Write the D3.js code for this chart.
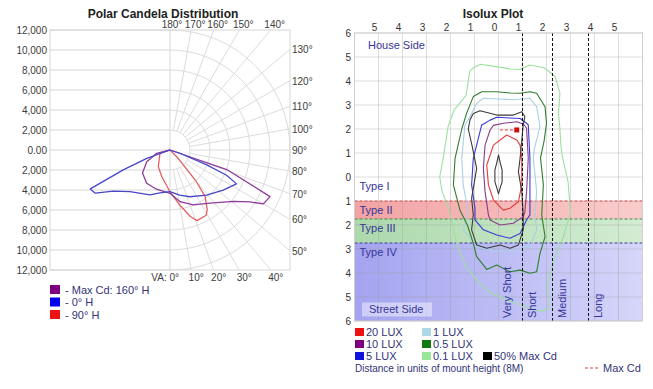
<!DOCTYPE html>
<html>
<head>
<meta charset="utf-8">
<script src="https://cdn.jsdelivr.net/npm/d3@7"></script>
<style>
  body { margin: 0; background: #fff; }
  text { font-family: "Liberation Sans", Arial, sans-serif; }
</style>
</head>
<body>
<svg id="chart" width="653" height="389"></svg>
<script>
// ---- Polar candela data (vertical angle from nadir, candela); negative angles = left half
const candelaTicks = d3.range(-12000, 12001, 2000);
const topAngleLabels = [180, 170, 160, 150, 140];
const rightAngleLabels = [130, 120, 110, 100, 90, 80, 70, 60, 50];
const bottomAngleLabels = [0, 10, 20, 30, 40];

const maxCdAngles = [-90, -76, -63, -50, -35, -19, 0, 11, 23, 37, 51, 57, 60, 65, 71, 90];
const maxCdValues = [0, 1370, 2610, 3590, 4060, 4150, 4330, 5270, 5970, 6660, 8170, 9530, 10780, 11040, 6010, 0];
const h0Angles = [-90, -70, -67, -64, -60, -54, -44, -24, -13, 0, 12, 23, 39, 53, 63, 66, 68, 72, 90];
const h0Values = [0, 2470, 5080, 8870, 8630, 6980, 5780, 4920, 4390, 4170, 4610, 5080, 5810, 6660, 7460, 6200, 3960, 1050, 0];
const h90Angles = [-90, -72, -35, -17, 0, 10, 17, 21, 29, 32, 37, 40, 42, 45, 90];
const h90Values = [0, 1050, 2040, 2800, 4170, 5590, 6960, 7560, 7460, 7030, 5840, 4020, 2000, 950, 0];

const polarSeries = ["- Max Cd: 160° H", "- 0° H", "- 90° H"];
const polarColors = ["#8e3a9c", "#4747c8", "#e46060"];
const polarSwatch = ["#7f007f", "#0000ee", "#ee1111"];

// ---- Isolux data (x, y in mount heights; y > 0 house side, y < 0 street side)
const isoXTicks = d3.range(-5, 6);
const isoYTicks = d3.range(-6, 7);
const typeNames = ["Type I", "Type II", "Type III", "Type IV"];
const typeEdges = [0, -1, -1.75, -2.75, -6];
const reachLines = [1.0, 2.25, 3.75];
const reachNames = ["Very Short", "Short", "Medium", "Long"];

const lux01 = [[-1.05,4.55],[-0.75,4.7],[-0.1,4.6],[0.5,4.5],[0.9,4.48],[1.3,4.67],[1.9,4.55],[2.35,4.2],[2.56,3.5],[2.5,2.65],[2.56,2.0],[2.6,1.3],[2.65,0.9],[2.9,-0.2],[3.0,-1.5],[2.7,-2.5],[2.3,-3.5],[2.05,-4.5],[2.1,-5.5],[1.7,-5.6],[1.0,-5.35],[0.3,-5.1],[-0.4,-4.8],[-0.9,-4.3],[-1.35,-3.75],[-1.75,-2.75],[-2.05,-1.4],[-2.35,-0.6],[-2.45,0.0],[-2.3,0.8],[-2.1,2.1],[-1.85,2.8],[-1.35,3.4],[-1.2,4.4]];
const lux1 = [[-0.63,3.28],[0.0,3.25],[0.6,3.22],[1.31,3.28],[1.59,2.93],[1.73,2.1],[1.5,1.2],[1.45,0.78],[1.59,-0.61],[1.52,-1.58],[1.59,-2.2],[1.31,-2.9],[0.76,-3.04],[-0.07,-3.1],[-0.91,-2.9],[-1.47,-2.2],[-1.26,-1.45],[-1.47,-0.33],[-1.53,0.78],[-1.4,2.17],[-1.19,2.51],[-0.91,3.07]];
const lux05 = [[-0.7,3.55],[-0.07,3.55],[0.5,3.5],[0.9,3.49],[1.31,3.55],[1.59,3.49],[1.94,2.93],[2.0,2.24],[1.9,1.5],[1.75,0.8],[1.87,-0.33],[1.8,-1.58],[1.94,-2.49],[1.73,-3.18],[1.59,-3.95],[1.31,-4.01],[0.9,-3.88],[0.48,-3.95],[-0.07,-3.67],[-0.49,-3.85],[-0.91,-3.32],[-1.05,-2.76],[-1.3,-2.0],[-1.6,-1.4],[-1.88,-0.33],[-1.81,0.78],[-1.53,2.0],[-1.33,2.65],[-1.05,3.35]];
const lux5 = [[-0.35,2.37],[-0.07,2.49],[0.5,2.46],[0.9,2.44],[1.17,2.24],[1.24,2.17],[1.31,0.78],[1.31,-0.61],[1.31,-1.58],[1.17,-1.79],[0.9,-2.35],[0.48,-2.55],[-0.07,-2.42],[-0.63,-2.2],[-0.98,-1.79],[-0.98,-1.3],[-1.12,-0.33],[-1.05,0.78],[-0.91,1.33],[-0.7,2.17],[-0.55,2.25]];
const lux10 = [[-0.21,2.15],[0.2,2.24],[0.76,2.3],[1.05,2.2],[1.17,2.03],[1.24,0.78],[1.17,-0.61],[1.1,-1.45],[1.03,-1.65],[0.62,-1.93],[0.06,-2.0],[-0.35,-1.79],[-0.42,-1.58],[-0.56,-0.61],[-0.63,0.36],[-0.56,1.33],[-0.35,1.96]];
const lux20 = [[0.34,1.75],[0.76,1.54],[0.9,1.33],[0.97,0.78],[0.97,-0.33],[0.83,-1.03],[0.48,-1.3],[0.2,-1.38],[-0.21,-0.96],[-0.42,-0.33],[-0.49,0.5],[-0.21,1.33]];
const halfMaxOuter = [[-1.05,2.65],[-0.77,2.76],[-0.07,2.58],[0.62,2.58],[0.97,2.72],[1.1,2.51],[1.03,2.17],[0.9,0.78],[0.83,0.22],[0.97,-0.61],[1.03,-1.58],[1.03,-2.2],[0.83,-2.83],[0.48,-2.97],[0.06,-2.83],[-0.49,-2.97],[-0.91,-2.83],[-1.12,-2.2],[-1.05,-1.58],[-1.12,-0.89],[-0.91,0.36],[-1.1,1.3],[-1.26,2.0],[-1.19,2.37]];
const halfMaxInner = [[0,0.92],[0.07,0.6],[0.15,0.3],[0.15,-0.2],[0.07,-0.45],[0,-0.7],[-0.07,-0.45],[-0.15,-0.2],[-0.15,0.3],[-0.07,0.6]];
const maxCdPoint = [0.76, 1.96];

const luxNames = ["20 LUX", "10 LUX", "5 LUX", "1 LUX", "0.5 LUX", "0.1 LUX", "50% Max Cd"];
const luxSwatch = ["#ee1111", "#7f007f", "#1111dd", "#add8e6", "#127a12", "#98e698", "#000000"];
const luxLine = ["#e23c3c", "#8a3a8a", "#3a3ad0", "#a8d0e6", "#2e7d2e", "#9ee09e", "#3a3a3a"];

const svg = d3.select("#chart");
const navy = "#33337a";

// =================== Polar Candela Distribution ===================
const cx = 170, cy = 150, R = 120;
const rScale = d3.scaleLinear().domain([0, 12000]).range([0, R]);
const yPolar = d3.scaleLinear().domain([12000, -12000]).range([cy - R, cy + R]);
const rad = a => a * Math.PI / 180;

const pg = svg.append("g");
pg.append("rect").attr("x", cx - R).attr("y", cy - R).attr("width", 2 * R).attr("height", 2 * R)
  .attr("fill", "#fff").attr("stroke", "#d6d6d6");

// left half: horizontal grid
pg.selectAll("line.h").data(candelaTicks).join("line")
  .attr("x1", cx - R).attr("x2", cx)
  .attr("y1", d => yPolar(d)).attr("y2", d => yPolar(d))
  .attr("stroke", "#d6d6d6");

// right half: arcs
pg.selectAll("path.arc").data(d3.range(2000, 12001, 2000)).join("path")
  .attr("d", d => {
    const p = d3.path();
    p.moveTo(cx, cy - rScale(d));
    p.arc(cx, cy, rScale(d), -Math.PI / 2, Math.PI / 2);
    return p.toString();
  })
  .attr("fill", "none").attr("stroke", "#dcdcdc");

function edgeDist(a) {
  const s = Math.abs(Math.sin(rad(a))), c = Math.abs(Math.cos(rad(a)));
  return Math.min(s > 1e-6 ? R / s : Infinity, c > 1e-6 ? R / c : Infinity);
}
pg.selectAll("line.r").data(d3.range(10, 180, 10)).join("line")
  .attr("x1", d => cx + rScale(2000) * Math.sin(rad(d)))
  .attr("y1", d => cy + rScale(2000) * Math.cos(rad(d)))
  .attr("x2", d => cx + edgeDist(d) * Math.sin(rad(d)))
  .attr("y2", d => cy + edgeDist(d) * Math.cos(rad(d)))
  .attr("stroke", "#dcdcdc");
pg.append("line").attr("x1", cx).attr("x2", cx).attr("y1", cy - R).attr("y2", cy + R).attr("stroke", "#d6d6d6");

// y labels
pg.selectAll("text.yl").data(candelaTicks).join("text")
  .attr("x", cx - R - 3).attr("y", d => yPolar(d) + 3.5)
  .attr("text-anchor", "end").attr("font-size", 10).attr("fill", "#3c3c3c")
  .text(d => d === 0 ? "0.00" : d3.format(",")(Math.abs(d)));

// angle labels
pg.selectAll("text.ta").data(topAngleLabels).join("text")
  .attr("x", d => cx + edgeDist(d) * Math.sin(rad(d)) + (d === 180 ? 2 : 4))
  .attr("y", cy - R - 2)
  .attr("text-anchor", "middle").attr("font-size", 10).attr("fill", "#3c3c3c")
  .text(d => d + "°");
pg.selectAll("text.ra").data(rightAngleLabels).join("text")
  .attr("x", cx + R + 2)
  .attr("y", d => cy + edgeDist(d) * Math.cos(rad(d)) + 4)
  .attr("font-size", 10).attr("fill", "#3c3c3c")
  .text(d => d + "°");
pg.selectAll("text.ba").data(bottomAngleLabels).join("text")
  .attr("x", d => d === 0 ? cx + 9 : cx + edgeDist(d) * Math.sin(rad(d)) + 5)
  .attr("y", cy + R + 11)
  .attr("text-anchor", d => d === 0 ? "end" : "middle")
  .attr("font-size", 10).attr("fill", "#3c3c3c")
  .text(d => d === 0 ? "VA: 0°" : d + "°");

// curves
const radial = d3.lineRadial()
  .angle(d => Math.PI - rad(d[0]))
  .radius(d => rScale(d[1]));
const polarData = [
  d3.zip(maxCdAngles, maxCdValues),
  d3.zip(h0Angles, h0Values),
  d3.zip(h90Angles, h90Values)
];
pg.append("g").attr("transform", `translate(${cx},${cy})`)
  .selectAll("path").data([polarData[2], polarData[0], polarData[1]]).join("path")
  .attr("d", radial)
  .attr("fill", "none")
  .attr("stroke", (d, i) => [polarColors[2], polarColors[0], polarColors[1]][i])
  .attr("stroke-width", 1.3)
  .attr("stroke-linejoin", "round");

pg.append("text").attr("x", 163).attr("y", 17.5).attr("text-anchor", "middle")
  .attr("font-size", 12).attr("font-weight", "bold").attr("fill", "#222")
  .text("Polar Candela Distribution");

// legend
const pl = pg.append("g").selectAll("g").data(polarSeries).join("g")
  .attr("transform", (d, i) => `translate(50,${285 + i * 12.5})`);
pl.append("rect").attr("width", 10).attr("height", 9).attr("fill", (d, i) => polarSwatch[i]);
pl.append("text").attr("x", 15).attr("y", 8.5).attr("font-size", 11).attr("fill", navy).text(d => d);

// =================== Isolux Plot ===================
const xIso = d3.scaleLinear().domain([-6, 6]).range([354.5, 642.5]);
const yIso = d3.scaleLinear().domain([6, -6]).range([33, 321]);
const ig = svg.append("g");

const defs = svg.append("defs");
const bandGrad = [["#f3a3a3", "#f9cccc"], ["#acd9ac", "#d3ecd3"], ["#a3a3f0", "#d6d6fa"]];
bandGrad.forEach((c, i) => {
  const g = defs.append("linearGradient").attr("id", "band" + i);
  g.append("stop").attr("offset", "0%").attr("stop-color", c[0]);
  g.append("stop").attr("offset", "100%").attr("stop-color", c[1]);
});

ig.append("rect").attr("x", xIso(-6)).attr("y", yIso(6))
  .attr("width", xIso(6) - xIso(-6)).attr("height", yIso(-6) - yIso(6)).attr("fill", "#fff");

// bands Type II..IV
ig.selectAll("rect.band").data([1, 2, 3]).join("rect")
  .attr("x", xIso(-6)).attr("width", xIso(6) - xIso(-6))
  .attr("y", d => yIso(typeEdges[d]))
  .attr("height", d => yIso(typeEdges[d + 1]) - yIso(typeEdges[d]))
  .attr("fill", (d, i) => `url(#band${i})`);

// grid
ig.selectAll("line.gx").data(d3.range(-6, 7)).join("line")
  .attr("x1", d => xIso(d)).attr("x2", d => xIso(d)).attr("y1", yIso(6)).attr("y2", yIso(-6))
  .attr("stroke", "#9a9a9a").attr("stroke-opacity", 0.35);
ig.selectAll("line.gy").data(d3.range(-6, 7)).join("line")
  .attr("y1", d => yIso(d)).attr("y2", d => yIso(d)).attr("x1", xIso(-6)).attr("x2", xIso(6))
  .attr("stroke", "#9a9a9a").attr("stroke-opacity", 0.35);

// type boundaries
const boundaryColors = ["#e04848", "#3c8a3c", "#3a3a9a"];
ig.selectAll("line.tb").data([1, 2, 3]).join("line")
  .attr("x1", xIso(-6)).attr("x2", xIso(6))
  .attr("y1", d => yIso(typeEdges[d])).attr("y2", d => yIso(typeEdges[d]))
  .attr("stroke", (d, i) => boundaryColors[i]).attr("stroke-dasharray", "3,2");

// contours
const contourLine = d3.line().x(d => xIso(d[0])).y(d => yIso(d[1])).curve(d3.curveLinearClosed);
const contours = [
  [lux01, luxLine[5]], [lux1, luxLine[3]], [lux05, luxLine[4]],
  [lux5, luxLine[2]], [lux10, luxLine[1]], [lux20, luxLine[0]],
  [halfMaxOuter, luxLine[6]], [halfMaxInner, luxLine[6]]
];
ig.selectAll("path.c").data(contours).join("path")
  .attr("d", d => contourLine(d[0]))
  .attr("fill", "none").attr("stroke", d => d[1]).attr("stroke-width", 1.1)
  .attr("stroke-linejoin", "round");

// max cd marker
ig.append("line").attr("x1", xIso(0.06)).attr("x2", xIso(maxCdPoint[0]))
  .attr("y1", yIso(maxCdPoint[1])).attr("y2", yIso(maxCdPoint[1]))
  .attr("stroke", "#d84040").attr("stroke-dasharray", "3,2");
ig.append("rect").attr("x", xIso(maxCdPoint[0]) - 2.5).attr("y", yIso(maxCdPoint[1]) - 2.5)
  .attr("width", 5).attr("height", 5).attr("fill", "#d01010");

// reach lines
ig.selectAll("line.reach").data(reachLines).join("line")
  .attr("x1", d => xIso(d)).attr("x2", d => xIso(d)).attr("y1", yIso(6)).attr("y2", yIso(-6))
  .attr("stroke", "#111").attr("stroke-dasharray", "3,2");
ig.selectAll("text.reach").data(reachNames).join("text")
  .attr("transform", (d, i) => {
    const x = i === 0 ? xIso(reachLines[0]) - 12 : xIso(reachLines[i - 1]) + 13;
    return `translate(${x},${yIso(-6) - 3}) rotate(-90)`;
  })
  .attr("font-size", 11).attr("fill", "#35359a").text(d => d);

ig.append("rect").attr("x", xIso(-6)).attr("y", yIso(6))
  .attr("width", xIso(6) - xIso(-6)).attr("height", yIso(-6) - yIso(6))
  .attr("fill", "none").attr("stroke", "#cfcfcf");

// type labels
ig.selectAll("text.type").data(typeNames).join("text")
  .attr("x", xIso(-6) + 5).attr("y", (d, i) => yIso(typeEdges[i]) + 13)
  .attr("font-size", 11).attr("fill", "#35359a").text(d => d);

ig.append("text").attr("x", 368).attr("y", 49).attr("font-size", 11).attr("fill", "#35359a").text("House Side");
ig.append("rect").attr("x", 362).attr("y", 302.5).attr("width", 70).attr("height", 14)
  .attr("fill", "#fff").attr("fill-opacity", 0.45);
ig.append("text").attr("x", 369).attr("y", 313).attr("font-size", 11).attr("fill", "#35359a").text("Street Side");

// axis labels
ig.selectAll("text.xt").data(isoXTicks).join("text")
  .attr("x", d => xIso(d) - 4).attr("y", 31).attr("text-anchor", "middle")
  .attr("font-size", 10).attr("fill", "#333").text(d => Math.abs(d));
ig.selectAll("text.yt").data(isoYTicks).join("text")
  .attr("x", 351).attr("y", d => yIso(d) + 3.5).attr("text-anchor", "end")
  .attr("font-size", 10).attr("fill", "#333").text(d => Math.abs(d));

ig.append("text").attr("x", 493).attr("y", 17.5).attr("text-anchor", "middle")
  .attr("font-size", 12).attr("font-weight", "bold").attr("fill", "#222").text("Isolux Plot");

// legend
const legendPos = [[355, 328], [355, 340], [355, 352], [422, 328], [422, 340], [422, 352], [483, 352]];
const il = ig.append("g").selectAll("g").data(luxNames).join("g")
  .attr("transform", (d, i) => `translate(${legendPos[i][0]},${legendPos[i][1]})`);
il.append("rect").attr("width", 9).attr("height", 8).attr("fill", (d, i) => luxSwatch[i]);
il.append("text").attr("x", 11).attr("y", 8).attr("font-size", 11).attr("fill", navy).text(d => d);

ig.append("text").attr("x", 355).attr("y", 371.5).attr("font-size", 10).attr("fill", navy)
  .text("Distance in units of mount height (8M)");
ig.append("line").attr("x1", 585).attr("x2", 600).attr("y1", 368).attr("y2", 368)
  .attr("stroke", "#d84040").attr("stroke-dasharray", "3,2");
ig.append("text").attr("x", 603).attr("y", 371.5).attr("font-size", 11).attr("fill", navy).text("Max Cd");
</script>
</body>
</html>
